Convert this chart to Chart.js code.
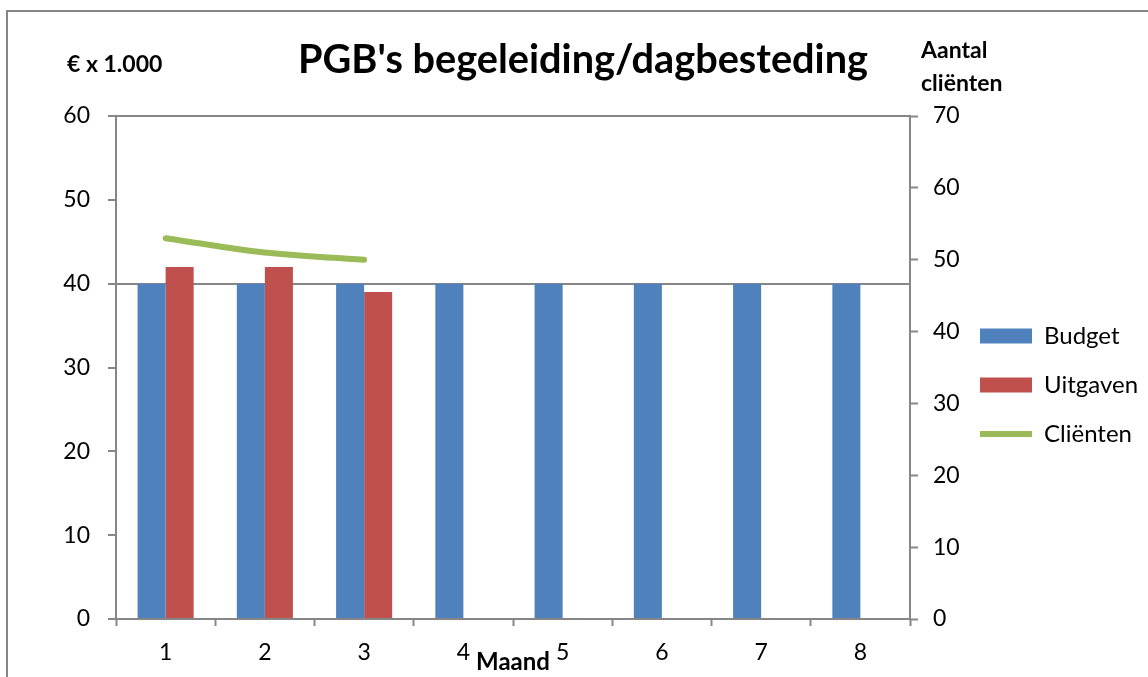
<!DOCTYPE html>
<html>
<head>
<meta charset="utf-8">
<title>PGB's begeleiding/dagbesteding</title>
<script src="https://cdn.jsdelivr.net/npm/chart.js@4"></script>
<style>
  html, body { margin: 0; padding: 0; background: #fff; }
  #wrap { width: 1148px; height: 677px; position: relative; }
</style>
</head>
<body>
<div id="wrap"><canvas id="myChart"></canvas></div>
<script>
// data
var months = ['1', '2', '3', '4', '5', '6', '7', '8'];
var budget = [40, 40, 40, 40, 40, 40, 40, 40];
var uitgaven = [42, 42, 39, null, null, null, null, null];
var clienten = [53, 51, 50, null, null, null, null, null];

var chartTitle = "PGB's begeleiding/dagbesteding";
var leftTitle = '€ x 1.000';
var rightTitle = ['Aantal', 'cliënten'];
var xTitle = 'Maand';

var axisGray = '#868686';

Chart.defaults.font.family = 'Lato';
Chart.defaults.font.size = 23;
Chart.defaults.color = '#000';

// frame round the chart and the texts above the plot
var titlesPlugin = {
  id: 'titles',
  afterLayout: function (chart) {
    // give the right tick labels room to draw over the legend gap
    chart.scales.y1.right = chart.scales.y1.left + 60;
  },
  beforeDraw: function (chart) {
    var ctx = chart.ctx;
    ctx.save();
    ctx.strokeStyle = axisGray;
    ctx.lineWidth = 2;
    ctx.beginPath();
    ctx.moveTo(7, 677);
    ctx.lineTo(7, 11);
    ctx.lineTo(1148, 11);
    ctx.stroke();
    ctx.restore();
  },
  afterDraw: function (chart) {
    var ctx = chart.ctx;
    ctx.save();
    ctx.fillStyle = '#000';
    ctx.textBaseline = 'alphabetic';
    ctx.textAlign = 'center';
    ctx.font = 'bold 40px Lato';
    ctx.fillText(chartTitle, 583, 73, 570);
    ctx.textAlign = 'left';
    ctx.font = 'bold 23px Lato';
    ctx.fillText(leftTitle, 67, 72);
    ctx.fillText(rightTitle[0], 921, 58);
    ctx.fillText(rightTitle[1], 921, 91);
    ctx.restore();
  }
};

var ctx = document.getElementById('myChart').getContext('2d');
var chart = new Chart(ctx, {
  type: 'bar',
  data: {
    labels: months,
    datasets: [
      {
        label: 'Budget',
        data: budget,
        backgroundColor: '#4F81BD',
        pointStyle: 'rect',
        categoryPercentage: 0.565,
        barPercentage: 1,
        yAxisID: 'y'
      },
      {
        label: 'Uitgaven',
        data: uitgaven,
        backgroundColor: '#C0504D',
        pointStyle: 'rect',
        categoryPercentage: 0.565,
        barPercentage: 1,
        yAxisID: 'y'
      },
      {
        type: 'line',
        label: 'Cliënten',
        data: clienten,
        borderColor: '#9BBB59',
        backgroundColor: '#9BBB59',
        borderWidth: 6,
        borderCapStyle: 'round',
        tension: 0.4,
        pointRadius: 0,
        pointStyle: 'line',
        yAxisID: 'y1'
      }
    ]
  },
  options: {
    responsive: true,
    maintainAspectRatio: false,
    animation: false,
    layout: { padding: { top: 116, left: 0, right: 2, bottom: 0 } },
    plugins: {
      tooltip: { enabled: false },
      legend: {
        position: 'right',
        fullSize: false,
        // empty title only pushes the items down a bit
        title: { display: true, text: ' ', padding: 0, font: { size: 29 } },
        labels: {
          usePointStyle: true,
          pointStyleWidth: 52,
          boxHeight: 15,
          padding: 25,
          color: '#000',
          font: { size: 24 }
        }
      }
    },
    scales: {
      x: {
        offset: true,
        afterFit: function (scale) { scale.height = 58; },
        border: { color: axisGray, width: 2 },
        grid: {
          offset: true,
          drawOnChartArea: false,
          tickLength: 7,
          tickColor: axisGray,
          tickWidth: 2
        },
        ticks: { padding: 13, color: '#000' },
        title: {
          display: true,
          text: xTitle,
          padding: 0,
          font: { size: 24, weight: 'bold' }
        }
      },
      y: {
        position: 'left',
        min: 0,
        max: 60,
        afterFit: function (scale) { scale.width = 116; },
        border: { color: axisGray, width: 2 },
        grid: {
          color: function (c) {
            return (c.tick && (c.tick.value === 40 || c.tick.value === 60)) ? axisGray : 'rgba(0,0,0,0)';
          },
          lineWidth: 2,
          tickLength: 8,
          tickColor: axisGray,
          tickWidth: 2
        },
        ticks: { stepSize: 10, padding: 18, color: '#000' }
      },
      y1: {
        position: 'right',
        min: 0,
        max: 70,
        afterFit: function (scale) { scale.width = 45; },
        border: { color: axisGray, width: 2 },
        grid: {
          drawOnChartArea: false,
          tickLength: 8,
          tickColor: axisGray,
          tickWidth: 2
        },
        ticks: { stepSize: 10, padding: 15, color: '#000' }
      }
    }
  },
  plugins: [titlesPlugin]
});
</script>
</body>
</html>
